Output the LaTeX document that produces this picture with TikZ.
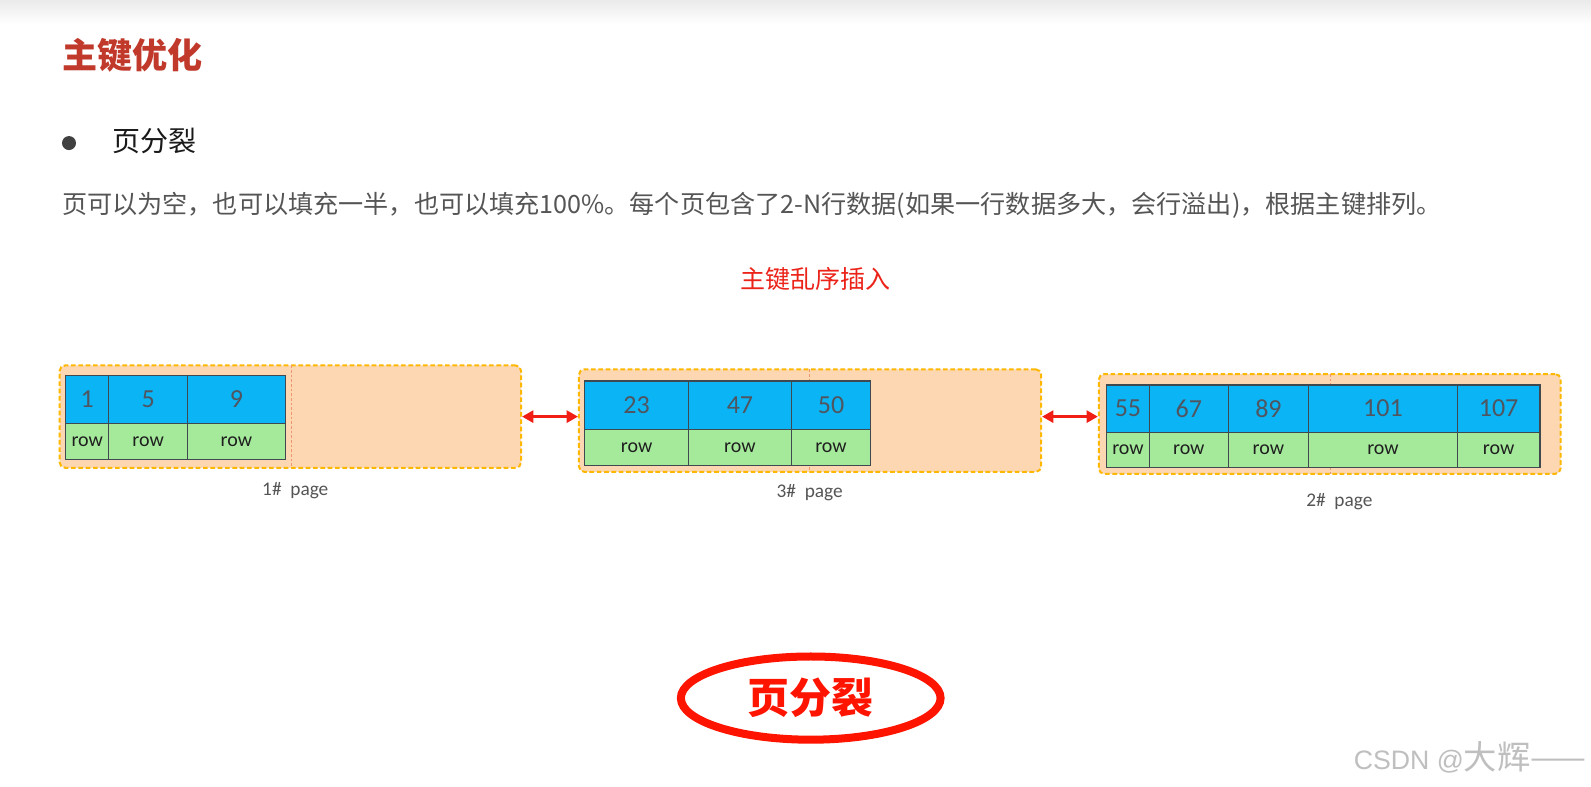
\documentclass[tikz,border=0pt]{standalone}
\usepackage{fontspec}
\setmainfont{Carlito}
\newfontfamily\cjk{Noto Sans CJK SC}
\newfontfamily\arialfont{Liberation Sans}
\usetikzlibrary{arrows.meta, shapes.geometric, fit, positioning}
\definecolor{titlered}{RGB}{192,57,43}
\definecolor{bodygray}{RGB}{85,85,85}
\definecolor{notered}{RGB}{235,35,25}
\definecolor{pagefill}{RGB}{253,214,178}
\definecolor{pageline}{RGB}{255,184,0}
\definecolor{splitorange}{RGB}{238,150,110}
\definecolor{keyblue}{RGB}{10,180,245}
\definecolor{rowgreen}{RGB}{165,234,155}
\definecolor{cellline}{RGB}{64,72,80}
\definecolor{keygray}{RGB}{80,85,95}
\definecolor{linkred}{RGB}{240,30,20}
\definecolor{splitred}{RGB}{255,20,0}
\tikzset{
  pagebox/.style={
    rectangle, rounded corners=4pt, inner sep=0pt,
    draw=pageline, line width=1.5pt, dash pattern=on 3.5pt off 2pt,
    fill=pagefill
  },
  splitline/.style={splitorange, line width=0.5pt, dash pattern=on 2pt off 1.5pt},
  keycell/.style={draw=cellline, fill=keyblue, line width=0.8pt},
  rowcell/.style={draw=cellline, fill=rowgreen, line width=0.8pt},
  keytext/.style={font=\fontsize{19.5}{20}\selectfont, text=keygray},
  rowtext/.style={font=\fontsize{15}{16}\selectfont, text=black!88},
  pagelabel/.style={font=\fontsize{14.5}{15}\selectfont, text=bodygray},
  linkarrow/.style={{Triangle[length=8.5pt,width=9pt]}-{Triangle[length=8.5pt,width=9pt]}, line width=2.6pt, linkred}
}
\begin{document}
\begin{tikzpicture}[x=0.761pt, y=-0.761pt]
  \useasboundingbox (0,0) rectangle (1568,775);
  \fill[white] (0,0) rectangle (1568,775);
  % top shadow band
  \shade[top color=black!8, bottom color=white] (0,0) rectangle (1568,24);

  % heading and text
  \node[anchor=west, inner sep=0pt, font=\cjk\bfseries\fontsize{26.3}{30}\selectfont, text=titlered] (title) at (61,55) {主键优化};
  \node[circle, fill=black!75, minimum size=10.5pt, inner sep=0pt] (bullet) at (68,141) {};
  \node[anchor=west, inner sep=0pt, font=\cjk\fontsize{21}{24}\selectfont, text=black!90] (item) at (111,139) {页分裂};
  \node[anchor=west, inner sep=0pt, font=\cjk\fontsize{18.85}{22}\selectfont, text=bodygray] (intro) at (61,202)
    {页可以为空，也可以填充一半，也可以填充100\%。每个页包含了2-N行数据(如果一行数据多大，会行溢出)，根据主键排列。};
  \node[font=\cjk\fontsize{18.75}{22}\selectfont, text=notered] (caption) at (804,275) {主键乱序插入};

  % page 1
  \node[pagebox, fit={(58.8,360.2) (513.5,461)}] (p1) {};
  \draw[splitline] (287.5,360.2) -- (287.5,461);
  \foreach \l/\r/\k [count=\i] in {65/107/1, 107/185/5, 185/281/9} {
    \draw[keycell] (\l,369.7) rectangle (\r,417.2) node[midway, keytext] (k1-\i) {\k};
    \draw[rowcell] (\l,417.2) rectangle (\r,452.8) node[midway, rowtext] (r1-\i) {row};
  }
  \node[pagelabel] (l1) at (291,484) {1\#\ \ page};

  % page 3
  \node[pagebox, fit={(570.6,364) (1026,465)}] (p3) {};
  \draw[splitline] (798,364) -- (798,465);
  \foreach \l/\r/\k [count=\i] in {576.3/678.5/23, 678.5/780/47, 780/858/50} {
    \draw[keycell] (\l,375.5) rectangle (\r,423.7) node[midway, keytext] (k3-\i) {\k};
    \draw[rowcell] (\l,423.7) rectangle (\r,458.6) node[midway, rowtext] (r3-\i) {row};
  }
  \node[pagelabel] (l3) at (798,486) {3\#\ \ page};

  % page 2
  \node[pagebox, fit={(1083,368.6) (1538,467)}] (p2) {};
  \draw[splitline] (1311.4,368.6) -- (1311.4,467);
  \foreach \l/\r/\k [count=\i] in {1090.6/1132.7/55, 1132.7/1210.5/67, 1210.5/1289.7/89, 1289.7/1436.2/101, 1436.2/1517.7/107} {
    \draw[keycell] (\l,379.4) rectangle (\r,426) node[midway, keytext] (k2-\i) {\k};
    \draw[rowcell] (\l,426) rectangle (\r,460.5) node[midway, rowtext] (r2-\i) {row};
  }
  \node[pagelabel] (l2) at (1320,494.4) {2\#\ \ page};

  % links between pages
  \draw[linkarrow] (p1.east) -- (p1.east -| p3.west);
  \draw[linkarrow] (p3.east |- p1.east) -- (p1.east -| p2.west);

  % page split mark
  \node[ellipse, draw=splitred, line width=6pt, minimum width=194.8pt, minimum height=62.4pt, inner sep=0pt,
    font=\cjk\bfseries\fontsize{31.5}{34}\selectfont, text=splitred] (split) at (799,688) {页分裂};

  % watermark
  \node[anchor=west, inner sep=0pt, text=black!25] (mark) at (1334,746)
    {\arialfont\fontsize{20}{22}\selectfont CSDN @\cjk\fontsize{25}{28}\selectfont 大辉——};
\end{tikzpicture}
\end{document}
